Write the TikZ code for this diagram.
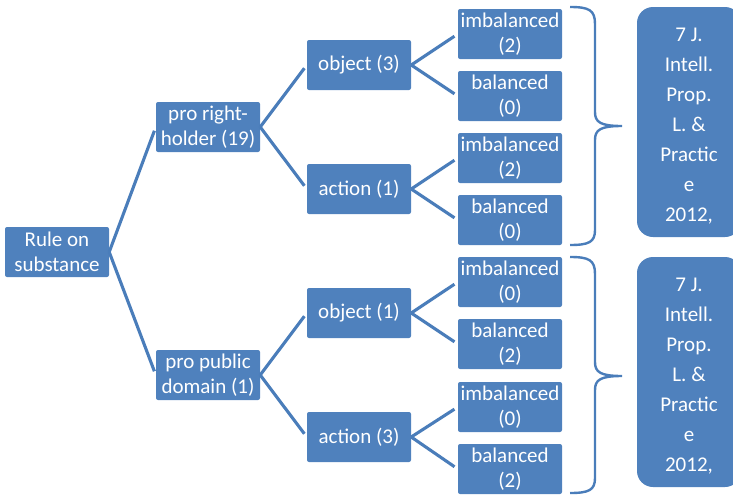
\documentclass[tikz,border=0pt]{standalone}
\usepackage{fontspec}
\setmainfont{Carlito}
\definecolor{boxblue}{HTML}{4F81BD}
\definecolor{lineblue}{HTML}{4A7DBA}
\tikzset{
  nbox/.style={fill=boxblue, rounded corners=2pt, minimum width=104pt, minimum height=50pt,
    inner sep=0pt, text=white, align=center, font=\fontsize{21}{25}\selectfont},
  bigbox/.style={fill=boxblue, rounded corners=16pt, minimum width=104pt, minimum height=230pt,
    inner sep=0pt},
  bigtext/.style={inner sep=0pt, text=white, align=center, font=\fontsize{21}{30}\selectfont},
  conn/.style={draw=lineblue, line width=3.1pt, shorten >=4pt},
  bracestyle/.style={draw=lineblue, line width=2.4pt}
}
\begin{document}
\begin{tikzpicture}[x=1pt,y=-1pt]
\clip (0,0) rectangle (733,496);
% nodes
\node[nbox] (root) at (57,252) {Rule on\\substance};
\node[nbox] (prh) at (208,127) {pro right-\\holder (19)};
\node[nbox] (ppd) at (208,375) {pro public\\domain (1)};
\node[nbox] (o1) at (359,65) {object (3)};
\node[nbox] (a1) at (359,189) {action (1)};
\node[nbox] (o2) at (359,313) {object (1)};
\node[nbox] (a2) at (359,437) {action (3)};
\node[nbox] (l1) at (510,34) {imbalanced\\(2)};
\node[nbox] (l2) at (510,96) {balanced\\(0)};
\node[nbox] (l3) at (510,158) {imbalanced\\(2)};
\node[nbox] (l4) at (510,220) {balanced\\(0)};
\node[nbox] (l5) at (510,282) {imbalanced\\(0)};
\node[nbox] (l6) at (510,344) {balanced\\(2)};
\node[nbox] (l7) at (510,407) {imbalanced\\(0)};
\node[nbox] (l8) at (510,469) {balanced\\(2)};
\node[bigbox] (b1) at (689,122) {};
\node[bigtext] (b1t) at ([yshift=-4pt]b1.center) {7 J.\\Intell.\\Prop.\\L. \&\\Practic\\e\\2012,};
\node[bigbox] (b2) at (689,372) {};
\node[bigtext] (b2t) at ([yshift=-4pt]b2.center) {7 J.\\Intell.\\Prop.\\L. \&\\Practic\\e\\2012,};
% connectors
\foreach \p/\c in {root/prh, root/ppd, prh/o1, prh/a1, ppd/o2, ppd/a2,
                   o1/l1, o1/l2, a1/l3, a1/l4, o2/l5, o2/l6, a2/l7, a2/l8}
  \draw[conn] (\p.east) -- (\c.west);
% braces
\coordinate (t1) at (622,126);
\coordinate (t2) at (622,376);
\draw[bracestyle] (570,7) .. controls (589,7) and (595,10) .. (595,24)
  -- (595,112) .. controls (595,122) and (600,126) .. (t1)
  .. controls (600,126) and (595,130) .. (595,140)
  -- (595,230) .. controls (595,242) and (589,245) .. (570,245);
\draw[bracestyle] (570,257) .. controls (589,257) and (595,260) .. (595,274)
  -- (595,362) .. controls (595,372) and (600,376) .. (t2)
  .. controls (600,376) and (595,380) .. (595,390)
  -- (595,478) .. controls (595,490) and (589,493) .. (570,493);
\end{tikzpicture}
\end{document}
